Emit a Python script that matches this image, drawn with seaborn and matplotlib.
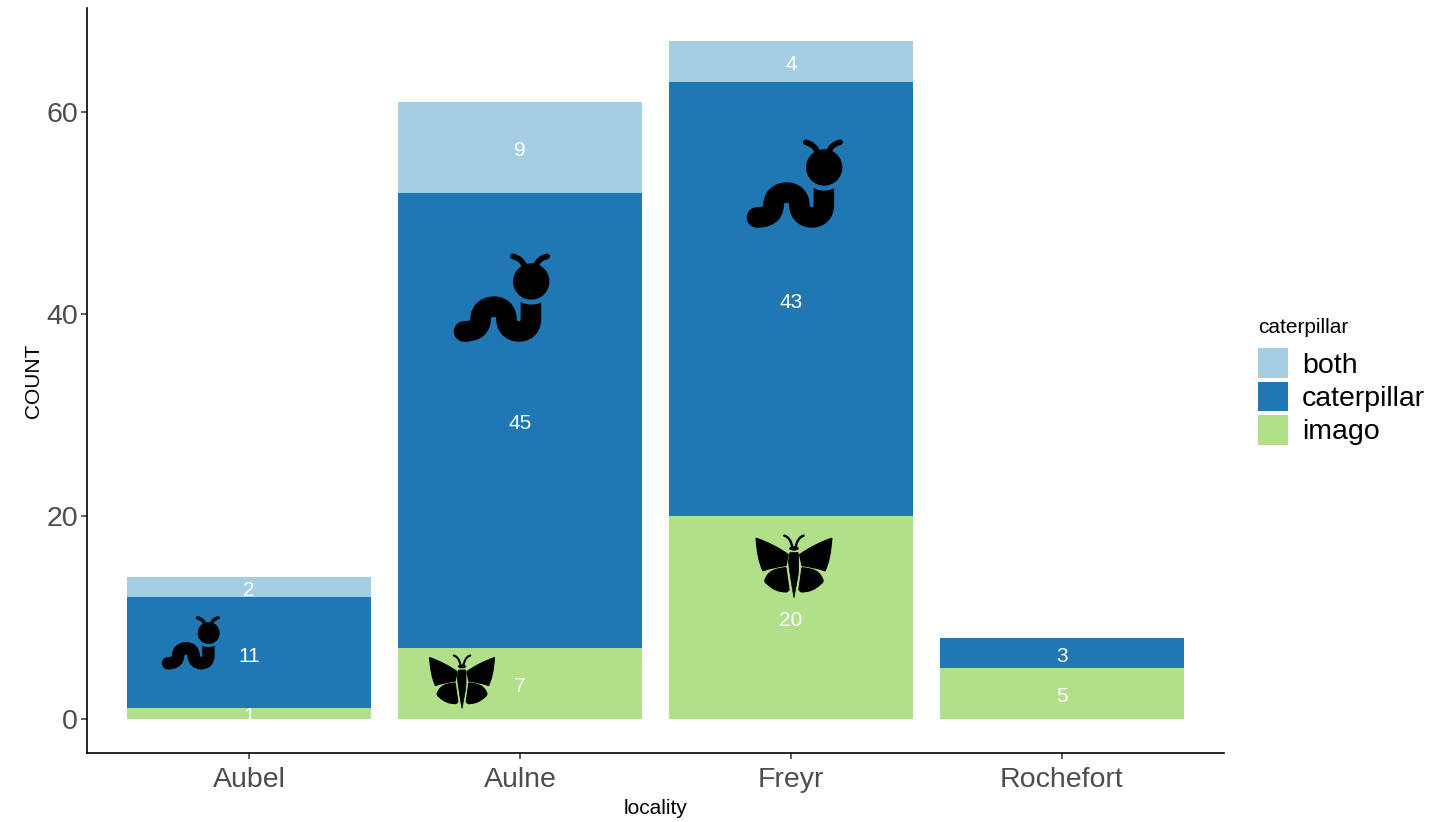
import matplotlib
matplotlib.use("Agg")
import matplotlib.pyplot as plt
import numpy as np
import seaborn as sns
from matplotlib.patches import Patch, PathPatch, Circle, Ellipse
from matplotlib.path import Path
from matplotlib.transforms import Affine2D

localities = ["Aubel", "Aulne", "Freyr", "Rochefort"]
imago = [1, 7, 20, 5]
caterpillar = [11, 45, 43, 3]
both = [2, 9, 4, 0]
series_names = ["both", "caterpillar", "imago"]
colors = {"both": "#A6CEE3", "caterpillar": "#1F78B4", "imago": "#B2DF8A"}

# icon placement: x, y in data units, scale in pixels per icon unit
worm_spots = [(-0.214, 7.47, 0.2), (0.934, 41.6, 0.331), (2.015, 52.88, 0.331)]
moth_spots = [(0.786, 3.61, 0.295), (2.011, 15.02, 0.345)]

sns.set_theme(style="ticks")
plt.rcParams["font.family"] = ["Liberation Sans", "DejaVu Sans"]

W, H = 1447, 822
fig = plt.figure(figsize=(W / 100, H / 100), dpi=100)
ax = fig.add_axes([87 / W, 1 - 753 / H, (1224 - 87) / W, (753 - 8) / H])


def stacked(values, bottom, name):
    sns.barplot(x=localities, y=values, bottom=bottom, color=colors[name], width=0.9,
                saturation=1, linewidth=0, ax=ax, zorder=2)
    labels = [str(v) if v > 0 else "" for v in values]
    texts = ax.bar_label(ax.containers[-1], labels=labels, label_type="center", color="white",
                         fontsize=15, zorder=3)
    for t in texts:
        t.xyann = (0, -2.5)


imago_arr = np.array(imago)
cat_arr = np.array(caterpillar)
stacked(imago, 0, "imago")
stacked(caterpillar, imago_arr, "caterpillar")
stacked(both, imago_arr + cat_arr, "both")

ax.set_xlim(-0.598, 3.598)
ax.set_ylim(-3.41, 70.29)
ax.set_yticks([0, 20, 40, 60])
ax.tick_params(axis="both", labelsize=20.5, labelcolor="#4D4D4D", color="#333333",
               length=4, width=1.1)
ax.tick_params(axis="x", pad=6)
ax.tick_params(axis="y", pad=2.5)
ax.set_xlabel("locality", fontsize=15, color="black", labelpad=4.5)
ax.set_ylabel("COUNT", fontsize=15, color="black", labelpad=2.5)
sns.despine(ax=ax)
for side in ["left", "bottom"]:
    ax.spines[side].set_linewidth(1.2)
    ax.spines[side].set_color("black")


def place(x, y, s, cx, cy):
    px, py = ax.transData.transform((x, y))
    return Affine2D().translate(-cx, -cy).scale(s, -s).translate(px, py)


def add_stroke(verts, codes, tr, lw, s, cap="round"):
    ax.add_patch(PathPatch(Path(verts, codes), fc="none", ec="black", lw=lw * s * 0.72,
                           capstyle=cap, joinstyle="round", transform=tr, zorder=4))


def draw_worm(x, y, s):
    tr = place(x, y, s, 245, 205)
    C3, C4, M, L = Path.CURVE3, Path.CURVE4, Path.MOVETO, Path.LINETO
    body = [(130, 306), (160, 306), (180, 296), (180, 268),
            (180, 245), (198, 231), (220, 231),
            (242, 231), (258, 245), (258, 268),
            (258, 292), (275, 306), (296, 306),
            (318, 306), (332, 292), (332, 268),
            (332, 210)]
    codes = [M] + [C4] * 15 + [L]
    add_stroke(body, codes, tr, 62, s, cap="butt")
    ax.add_patch(Circle((130, 306), 31, fc="black", ec="none", transform=tr, zorder=4))
    # gap between head and body, same blue as the bar behind
    ax.add_patch(Circle((333, 155), 70, fc=colors["caterpillar"], ec="none", transform=tr, zorder=4))
    ax.add_patch(Circle((333, 155), 55, fc="black", ec="none", transform=tr, zorder=4))
    add_stroke([(277, 79), (305, 85), (314, 112)], [M, C3, C3], tr, 17, s)
    add_stroke([(381, 79), (353, 85), (345, 112)], [M, C3, C3], tr, 17, s)


def draw_moth(x, y, s):
    tr = place(x, y, s, 148, 125)
    C3, M, L = Path.CURVE3, Path.MOVETO, Path.LINETO
    upper = [(38, 42), (90, 60), (132, 90), (128, 106), (125, 122), (85, 127), (58, 137),
             (42, 105), (38, 42)]
    upper_codes = [M, C3, C3, C3, C3, C3, C3, C3, C3]
    lower = [(125, 128), (78, 130), (68, 155), (58, 168), (70, 175), (95, 200), (128, 198),
             (134, 192), (130, 165), (125, 128)]
    lower_codes = [M, C3, C3, C3, C3, C3, C3, L, C3, C3]
    for sign in [1, -1]:
        for pts, cds in [(upper, upper_codes), (lower, lower_codes)]:
            mirrored = [(148 + sign * (px - 148), py) for px, py in pts]
            ax.add_patch(PathPatch(Path(mirrored, cds), fc="black", ec="black", lw=0.8,
                                   joinstyle="round", transform=tr, zorder=4))
        add_stroke([(148 + sign * 28, 35), (148 + sign * 10, 40), (148 + sign * 5, 68)],
                   [M, C3, C3], tr, 7, s)
    ax.add_patch(Ellipse((148, 72), 28, 13, fc="black", ec="none", transform=tr, zorder=4))
    body = [(136, 84), (160, 84), (164, 110), (160, 150), (148, 215), (136, 150), (132, 110),
            (136, 84)]
    ax.add_patch(PathPatch(Path(body, [M, L, C3, C3, L, C3, C3, L]), fc="black", ec="black",
                           lw=0.5, transform=tr, zorder=4))


fig.canvas.draw()
for spot in worm_spots:
    draw_worm(*spot)
for spot in moth_spots:
    draw_moth(*spot)

handles = [Patch(facecolor=colors[n], edgecolor="none", label=n) for n in series_names]
leg = ax.legend(handles=handles, title="caterpillar", frameon=False, fontsize=20.5,
                title_fontsize=15, labelcolor="black", loc="upper left",
                bbox_to_anchor=(1258 / W, 1 - 318 / H),
                bbox_transform=fig.transFigure, handlelength=1.05, handleheight=1.24,
                handletextpad=0.5, labelspacing=0.1, borderaxespad=0, borderpad=0)
leg.get_title().set_color("black")
leg._legend_box.align = "left"
leg._legend_box.sep = 8

fig.savefig("out.png", dpi=100)
